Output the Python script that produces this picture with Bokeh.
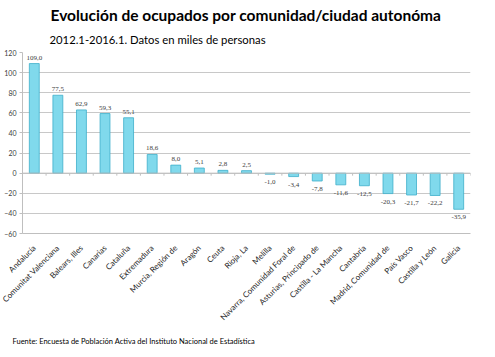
from bokeh.plotting import figure
from bokeh.models import ColumnDataSource, Title, FixedTicker, Range1d, LabelSet, Span
from bokeh.embed import file_html
from bokeh.resources import INLINE
from math import pi

categories = ["Andalucía", "Comunitat Valenciana", "Balears, Illes", "Canarias", "Cataluña",
              "Extremadura", "Murcia, Región de", "Aragón", "Ceuta", "Rioja, La", "Melilla",
              "Navarra, Comunidad Foral de", "Asturias, Principado de", "Castilla - La Mancha",
              "Cantabria", "Madrid, Comunidad de", "País Vasco", "Castilla y León", "Galicia"]
values = [109.0, 77.5, 62.9, 59.3, 55.1, 18.6, 8.0, 5.1, 2.8, 2.5, -1.0, -3.4, -7.8, -11.6,
          -12.5, -20.3, -21.7, -22.2, -35.9]
y_ticks = [-60, -40, -20, 0, 20, 40, 60, 80, 100, 120]

title_text = "Evolución de ocupados por comunidad/ciudad autonóma"
subtitle_text = "2012.1-2016.1. Datos en miles de personas"
source_text = "Fuente: Encuesta de Población Activa del Instituto Nacional de Estadística"

FONT = "Lato"

xs = [i + 0.5 for i in range(len(categories))]
labels = [f"{v:.1f}".replace(".", ",") for v in values]
src = ColumnDataSource(dict(x=xs, top=values))

p = figure(width=495, height=357, output_backend="svg", toolbar_location=None,
           x_range=Range1d(0, len(categories)), y_range=Range1d(-60, 120),
           min_border_left=22, min_border_right=25, min_border_top=52, min_border_bottom=124)
p.outline_line_color = None
p.background_fill_color = "white"
p.border_fill_color = "white"

p.vbar(x="x", top="top", bottom=0, width=0.42, source=src,
       fill_color="#80d9ec", line_color="#3eafca", line_width=0.8)

# value labels
pos = ColumnDataSource(dict(x=[x for x, v in zip(xs, values) if v >= 0],
                            y=[v for v in values if v >= 0],
                            t=[l for l, v in zip(labels, values) if v >= 0]))
neg = ColumnDataSource(dict(x=[x for x, v in zip(xs, values) if v < 0],
                            y=[v for v in values if v < 0],
                            t=[l for l, v in zip(labels, values) if v < 0]))
p.add_layout(LabelSet(x="x", y="y", text="t", source=pos, y_offset=4,
                      text_align="center", text_baseline="bottom",
                      text_font=FONT, text_font_size="7px", text_color="#404040"))
p.add_layout(LabelSet(x="x", y="y", text="t", source=neg, y_offset=-6,
                      text_align="center", text_baseline="top",
                      text_font=FONT, text_font_size="7px", text_color="#404040"))

# axes
p.yaxis.ticker = FixedTicker(ticks=y_ticks)
p.yaxis.major_label_text_font = FONT
p.yaxis.major_label_text_font_size = "7px"
p.yaxis.major_label_text_color = "#404040"
p.yaxis.axis_line_color = "#bfbfbf"
p.yaxis.major_tick_line_color = "#bfbfbf"
p.yaxis.major_tick_out = 3
p.yaxis.major_tick_in = 0
p.yaxis.minor_tick_line_color = None
p.yaxis.major_label_standoff = 3

p.xaxis.ticker = FixedTicker(ticks=xs)
p.xaxis.major_label_overrides = {x: c for x, c in zip(xs, categories)}
p.xaxis.major_label_orientation = pi / 4
p.xaxis.major_label_text_font = FONT
p.xaxis.major_label_text_font_size = "8px"
p.xaxis.major_label_text_color = "#262626"
p.xaxis.axis_line_color = "#bfbfbf"
p.xaxis.major_tick_line_color = None
p.xaxis.minor_tick_line_color = None
p.xaxis.major_label_standoff = 7

p.xgrid.grid_line_color = None
p.ygrid.ticker = FixedTicker(ticks=y_ticks)
p.ygrid.grid_line_color = "#c8c8c8"
p.ygrid.grid_line_width = 1

# zero line ticks between categories
bx = list(range(len(categories) + 1))
p.segment(x0=bx, x1=bx, y0=[0] * len(bx), y1=[-2.5] * len(bx), line_color="#bfbfbf", line_width=1)
p.add_layout(Span(location=0, dimension="width", line_color="#bfbfbf", line_width=1))

p.title = Title(text=title_text, align="left", offset=28,
                text_font=FONT, text_font_size="15.5px", text_font_style="bold",
                text_color="#000000", standoff=0)
p.add_layout(Title(text=subtitle_text, align="left", offset=27,
                   text_font=FONT, text_font_size="11.3px", text_font_style="normal",
                   text_color="#000000", standoff=14), "above")
p.add_layout(Title(text=source_text, align="left", offset=-10,
                   text_font=FONT, text_font_size="7.5px", text_font_style="normal",
                   text_color="#000000", standoff=12), "below")

open("out.html", "w").write(file_html(p, INLINE))
